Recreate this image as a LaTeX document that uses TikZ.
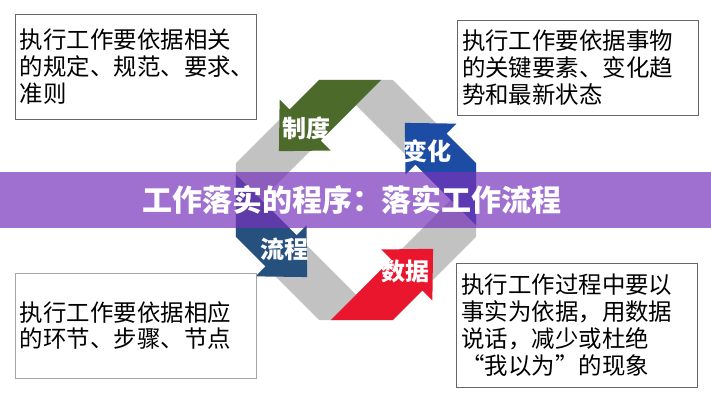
\documentclass[tikz,border=0pt]{standalone}
\usepackage{fontspec}
\newfontfamily\cjk{Noto Sans CJK SC}
\usepackage{tikz}
\definecolor{ringGrey}{RGB}{194,194,194}
\definecolor{zhiduGreen}{RGB}{76,106,42}
\definecolor{liuchengBlue}{RGB}{38,80,126}
\definecolor{shujuRed}{RGB}{234,22,46}
\definecolor{bianhuaBlue}{RGB}{28,76,164}
\definecolor{bannerPurple}{RGB}{119,51,188}
\tikzset{
    mybox/.style = {draw=black!60, thin, fill=white, align=left, inner xsep=0.15cm, minimum width=7.23cm, text width=6.93cm, font=\cjk\fontsize{20}{23}\selectfont, text=black},
    myboxl/.style = {mybox, draw=black!35},
    mylabel/.style = {text=white, inner sep=0pt, font=\cjk\bfseries\fontsize{20.5}{23}\selectfont},
    mytitle/.style = {text=white, inner sep=0pt, font=\cjk\bfseries\fontsize{25.6}{28}\selectfont},
    myband/.style = {fill=bannerPurple, opacity=0.7}
}
\begin{document}
\begin{tikzpicture}[x=0.03cm, y=0.03cm]
  \useasboundingbox (0,0) rectangle (711,400);
  % ring of four arrows
  \begin{scope}[shift={(356,200)}, rotate=45]
    \fill[ringGrey, even odd rule] (59,111) -- (-59,111) -- (-111,59) -- (-111,-59) -- (-59,-111) -- (59,-111) -- (111,-59) -- (111,59) -- cycle
      (67,67) rectangle (-67,-67);
    \foreach \ang/\col in {0/zhiduGreen, 90/liuchengBlue, 180/shujuRed, 270/bianhuaBlue}
      \fill[\col, rotate=\ang] (59,111) -- (17,111) -- (17,125) -- (-20,89) -- (17,53) -- (17,67) -- (103,67) -- cycle;
    \foreach \ang/\name/\txt in {0/zhidu/制度, 90/liucheng/流程, 180/shuju/数据, 270/bianhua/变化}
      \node[mylabel] (\name) at (\ang+79.4:87) {\txt};
  \end{scope}
  % banner
  \fill[myband] (0,172) rectangle (711,228);
  \node[mytitle] (title) at (352,200) {工作落实的程序：落实工作流程};
  % text boxes
  \node[mybox, minimum height=3.15cm] (rule) at (135.5,333.5) {执行工作要依据相关\\的规定、规范、要求、\\准则};
  \node[mybox, minimum height=2.85cm] (change) at (577.5,332.5) {执行工作要依据事物\\的关键要素、变化趋\\势和最新状态};
  \node[myboxl, minimum height=3.15cm] (flow) at (135.5,74.5) {执行工作要依据相应\\的环节、步骤、节点};
  \node[mybox, minimum height=3.72cm] (data) at (577,75) {执行工作过程中要以\\事实为依据，用数据\\说话，减少或杜绝\\“我以为”的现象};
\end{tikzpicture}
\end{document}
